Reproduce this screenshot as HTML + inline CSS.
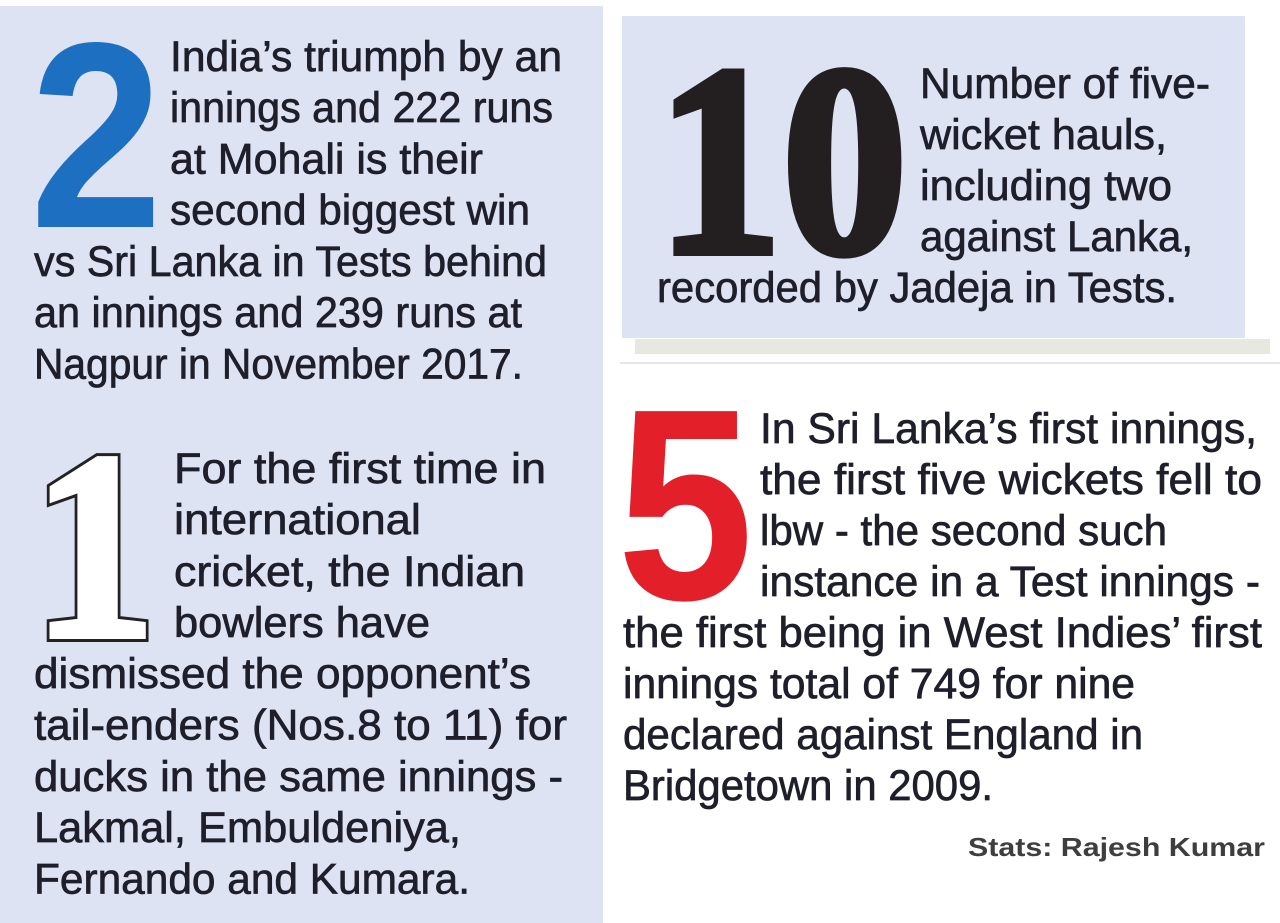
<!DOCTYPE html>
<html>
<head>
<meta charset="utf-8">
<style>
  html, body { margin: 0; padding: 0; background: #ffffff; }
  body { width: 1280px; height: 923px; overflow: hidden; }
  svg { display: block; }
  .t { font-family: "Liberation Sans", "DejaVu Sans", sans-serif; font-size: 43px; fill: #1e1f2a; stroke: #1e1f2a; stroke-width: 0.7px; }
</style>
</head>
<body>
<svg width="1280" height="923" viewBox="0 0 1280 923" xmlns="http://www.w3.org/2000/svg">
  <!-- backgrounds -->
  <rect x="0" y="0" width="1280" height="923" fill="#ffffff"/>
  <rect x="0" y="6" width="603" height="917" fill="#dde3f3"/>
  <rect x="622" y="16" width="623" height="322" fill="#dde3f3"/>
  <rect x="635" y="339" width="635" height="15" fill="#e7e8e0"/>
  <rect x="620" y="362" width="660" height="2" fill="#e6e6e6"/>

  <!-- Big blue 2 -->
  <text transform="translate(30,227) scale(0.9,1)" font-family="Liberation Sans, sans-serif" font-weight="bold" font-size="265" fill="#1d6fc2">2</text>

  <!-- Block: 2 -->
  <text class="t" x="170" y="71" textLength="392" lengthAdjust="spacingAndGlyphs">India’s triumph by an</text>
  <text class="t" x="170" y="122" textLength="383" lengthAdjust="spacingAndGlyphs">innings and 222 runs</text>
  <text class="t" x="170" y="173.5" textLength="313" lengthAdjust="spacingAndGlyphs">at Mohali is their</text>
  <text class="t" x="170" y="224.5" textLength="360" lengthAdjust="spacingAndGlyphs">second biggest win</text>
  <text class="t" x="34" y="276" textLength="513" lengthAdjust="spacingAndGlyphs">vs Sri Lanka in Tests behind</text>
  <text class="t" x="34" y="327" textLength="488" lengthAdjust="spacingAndGlyphs">an innings and 239 runs at</text>
  <text class="t" x="34" y="378.5" textLength="489" lengthAdjust="spacingAndGlyphs">Nagpur in November 2017.</text>

  <!-- Outlined 1 (layered to thicken) -->
  <g transform="translate(32.5,636) scale(0.92,1)" font-family="Liberation Serif, serif" font-weight="bold" font-size="268">
    <text fill="#222222" stroke="#222222" stroke-width="12" stroke-linejoin="miter">1</text>
    <text fill="#ffffff" stroke="#ffffff" stroke-width="6" stroke-linejoin="miter">1</text>
  </g>

  <!-- Block: 1 -->
  <text class="t" x="174" y="483" textLength="372" lengthAdjust="spacingAndGlyphs">For the first time in</text>
  <text class="t" x="174" y="534" textLength="247" lengthAdjust="spacingAndGlyphs">international</text>
  <text class="t" x="174" y="586" textLength="351" lengthAdjust="spacingAndGlyphs">cricket, the Indian</text>
  <text class="t" x="174" y="637" textLength="256" lengthAdjust="spacingAndGlyphs">bowlers have</text>
  <text class="t" x="34" y="688" textLength="497" lengthAdjust="spacingAndGlyphs">dismissed the opponent’s</text>
  <text class="t" x="34" y="739.5" textLength="533" lengthAdjust="spacingAndGlyphs">tail-enders (Nos.8 to 11) for</text>
  <text class="t" x="34" y="791" textLength="529" lengthAdjust="spacingAndGlyphs">ducks in the same innings -</text>
  <text class="t" x="34" y="842" textLength="427" lengthAdjust="spacingAndGlyphs">Lakmal, Embuldeniya,</text>
  <text class="t" x="34" y="893.5" textLength="436" lengthAdjust="spacingAndGlyphs">Fernando and Kumara.</text>

  <!-- Big black 10 -->
  <text transform="translate(657,252) scale(0.92,1)" font-family="Liberation Serif, serif" font-weight="bold" font-size="272" fill="#231f20" stroke="#231f20" stroke-width="8" stroke-linejoin="miter">10</text>

  <!-- Block: 10 -->
  <text class="t" x="920" y="98" textLength="290" lengthAdjust="spacingAndGlyphs">Number of five-</text>
  <text class="t" x="920" y="149" textLength="247" lengthAdjust="spacingAndGlyphs">wicket hauls,</text>
  <text class="t" x="920" y="200" textLength="252" lengthAdjust="spacingAndGlyphs">including two</text>
  <text class="t" x="920" y="251" textLength="273" lengthAdjust="spacingAndGlyphs">against Lanka,</text>
  <text class="t" x="657" y="302" textLength="520" lengthAdjust="spacingAndGlyphs">recorded by Jadeja in Tests.</text>

  <!-- Big red 5 -->
  <text transform="translate(617,599) scale(0.9,1)" font-family="Liberation Sans, sans-serif" font-weight="bold" font-size="273" fill="#e3202a">5</text>

  <!-- Block: 5 -->
  <text class="t" x="760" y="443" textLength="497" lengthAdjust="spacingAndGlyphs">In Sri Lanka’s first innings,</text>
  <text class="t" x="760" y="494" textLength="502" lengthAdjust="spacingAndGlyphs">the first five wickets fell to</text>
  <text class="t" x="760" y="545" textLength="407" lengthAdjust="spacingAndGlyphs">lbw - the second such</text>
  <text class="t" x="760" y="596" textLength="500" lengthAdjust="spacingAndGlyphs">instance in a Test innings -</text>
  <text class="t" x="623" y="647" textLength="639" lengthAdjust="spacingAndGlyphs">the first being in West Indies’ first</text>
  <text class="t" x="623" y="698" textLength="512" lengthAdjust="spacingAndGlyphs">innings total of 749 for nine</text>
  <text class="t" x="623" y="749" textLength="520" lengthAdjust="spacingAndGlyphs">declared against England in</text>
  <text class="t" x="623" y="800" textLength="370" lengthAdjust="spacingAndGlyphs">Bridgetown in 2009.</text>

  <!-- Credit -->
  <text x="968" y="856" textLength="297" lengthAdjust="spacingAndGlyphs" font-family="Liberation Sans, sans-serif" font-weight="bold" font-size="26" fill="#3e3e3e">Stats: Rajesh Kumar</text>
</svg>
</body>
</html>
